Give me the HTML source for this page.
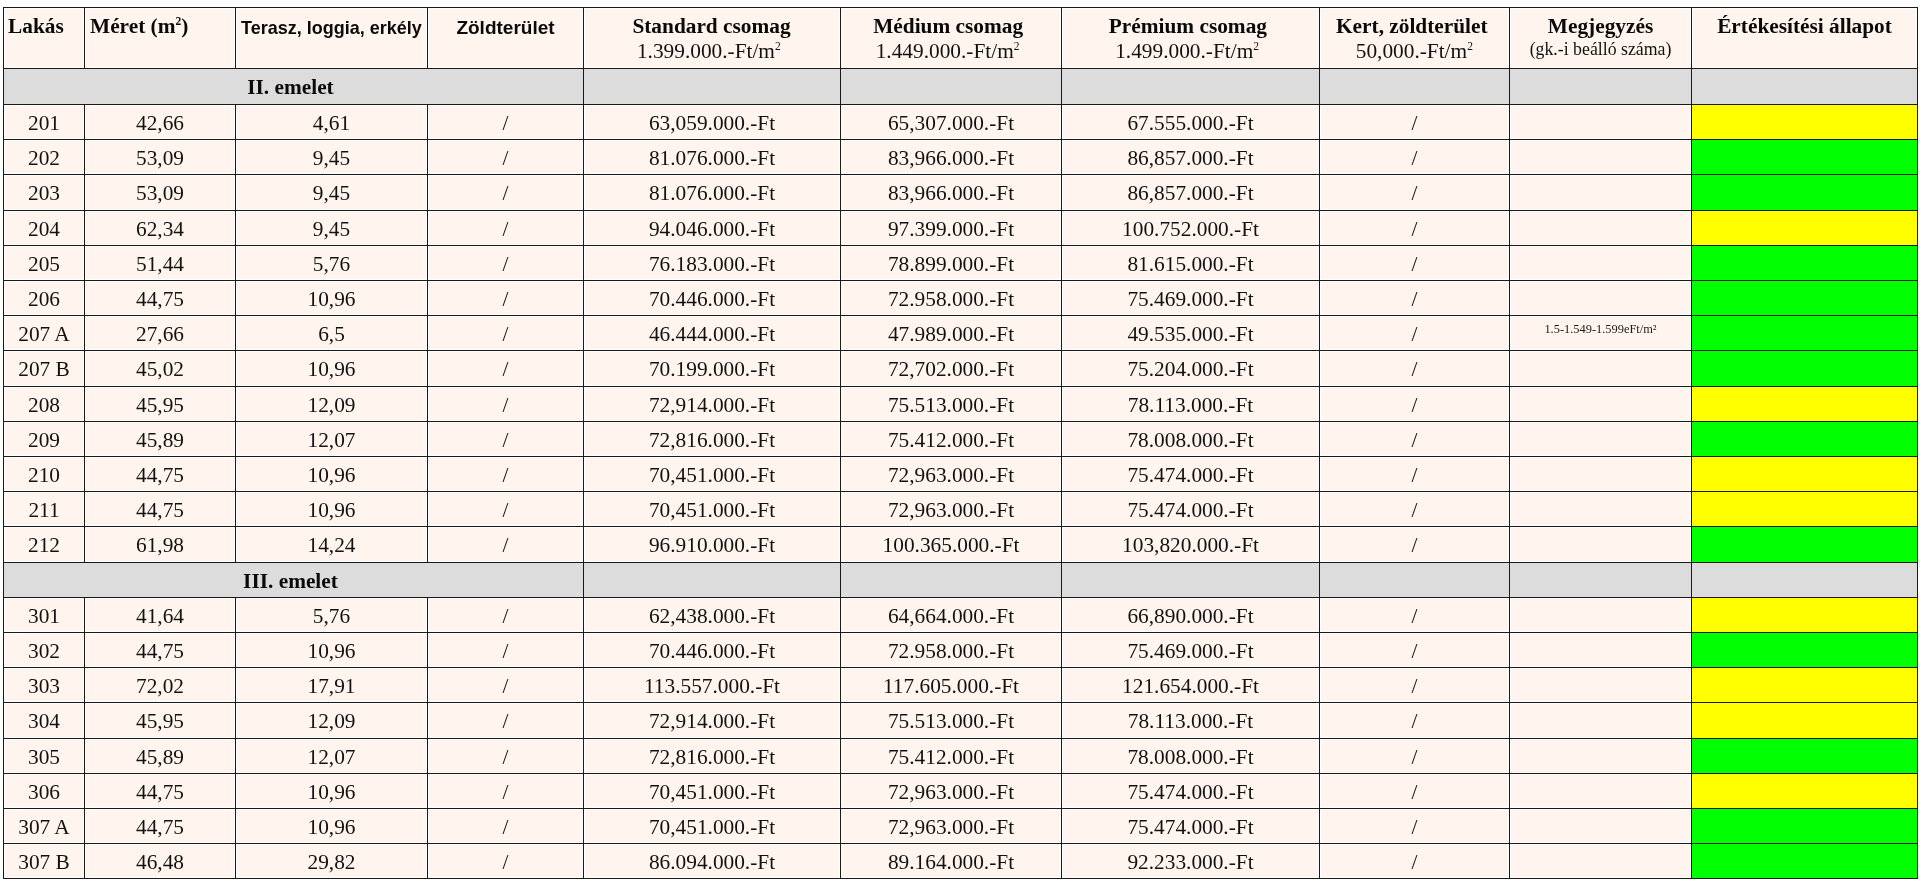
<!DOCTYPE html><html lang="hu"><head><meta charset="utf-8"><title>Lakások – árlista</title><style>
*{margin:0;padding:0;box-sizing:border-box}
html,body{width:1920px;height:880px;background:#fff;overflow:hidden}
body{position:relative;font-family:"Liberation Serif",serif;font-size:21.33px;color:#111}
table{will-change:transform;position:absolute;left:3px;top:7px;border-collapse:collapse;table-layout:fixed;width:1915px}
td,th{border:1px solid #1c1a19;background:#fff5ee;padding:2px 0 0 0;text-align:center;vertical-align:middle;line-height:24.5px;white-space:nowrap;overflow:hidden;box-shadow:inset 0 0 0 1px #fff}
th{font-weight:bold;vertical-align:top;padding-top:6px;color:#0a0a0a}
th div{position:relative;line-height:24.6px}
th.l{text-align:left;padding-left:5px}
th.sans{font-family:"Liberation Sans",sans-serif;letter-spacing:0}
.n{font-weight:normal;color:#111}
.gk{font-size:17.8px;line-height:20px;top:0}
tr.f td{background:#dcdcdc;font-weight:bold;box-shadow:none;color:#0a0a0a}
tr.f td.fl{padding-right:6px}
td.y{background:#ffff00;box-shadow:none}
td.g{background:#00ff00;box-shadow:none}
td.note{font-size:12.4px;line-height:14px;vertical-align:top;padding-top:6px;color:#1a1a1a}
sup{font-size:11.5px;line-height:0;vertical-align:8.5px}
</style></head><body>
<table><colgroup><col style="width:81px"><col style="width:151px"><col style="width:192px"><col style="width:156px"><col style="width:257px"><col style="width:221px"><col style="width:258px"><col style="width:190px"><col style="width:182px"><col style="width:226px"></colgroup>
<tr style="height:61px">
<th class="l"><div style="left:-1px">Lakás</div></th>
<th class="l"><div>Méret (m<sup>2</sup>)</div></th>
<th class="l sans"><div style="font-size:19px;top:2px"><span style="display:inline-block;transform:scaleX(0.947);transform-origin:0 0">Terasz, loggia, erkély</span></div></th>
<th class="sans"><div style="font-size:19px;top:2px">Zöldterület</div></th>
<th><div style="left:-0.5px">Standard csomag</div><div class="n" style="left:-3.2px">1.399.000.-Ft/m<sup>2</sup></div></th>
<th><div style="left:-2.9px">Médium csomag</div><div class="n" style="left:-3.4px">1.449.000.-Ft/m<sup>2</sup></div></th>
<th><div style="left:-2.6px">Prémium csomag</div><div class="n" style="left:-3.4px">1.499.000.-Ft/m<sup>2</sup></div></th>
<th><div style="left:-2.7px">Kert, zöldterület</div><div class="n" style="left:-0.2px">50,000.-Ft/m<sup>2</sup></div></th>
<th><div style="left:0.0px">Megjegyzés</div><div class="n gk" style="left:0.0px">(gk.-i beálló száma)</div></th>
<th><div>Értékesítési állapot</div></th>
</tr>
<tr class="f" style="height:36px"><td colspan="4" class="fl">II. emelet</td><td></td><td></td><td></td><td></td><td></td><td></td></tr>
<tr style="height:35px">
<td>201</td><td>42,66</td><td>4,61</td><td>/</td><td>63,059.000.-Ft</td><td>65,307.000.-Ft</td><td>67.555.000.-Ft</td><td>/</td>
<td></td>
<td class="y"></td></tr>
<tr style="height:35px">
<td>202</td><td>53,09</td><td>9,45</td><td>/</td><td>81.076.000.-Ft</td><td>83,966.000.-Ft</td><td>86,857.000.-Ft</td><td>/</td>
<td></td>
<td class="g"></td></tr>
<tr style="height:36px">
<td>203</td><td>53,09</td><td>9,45</td><td>/</td><td>81.076.000.-Ft</td><td>83,966.000.-Ft</td><td>86,857.000.-Ft</td><td>/</td>
<td></td>
<td class="g"></td></tr>
<tr style="height:35px">
<td>204</td><td>62,34</td><td>9,45</td><td>/</td><td>94.046.000.-Ft</td><td>97.399.000.-Ft</td><td>100.752.000.-Ft</td><td>/</td>
<td></td>
<td class="y"></td></tr>
<tr style="height:35px">
<td>205</td><td>51,44</td><td>5,76</td><td>/</td><td>76.183.000.-Ft</td><td>78.899.000.-Ft</td><td>81.615.000.-Ft</td><td>/</td>
<td></td>
<td class="g"></td></tr>
<tr style="height:35px">
<td>206</td><td>44,75</td><td>10,96</td><td>/</td><td>70.446.000.-Ft</td><td>72.958.000.-Ft</td><td>75.469.000.-Ft</td><td>/</td>
<td></td>
<td class="g"></td></tr>
<tr style="height:35px">
<td>207 A</td><td>27,66</td><td>6,5</td><td>/</td><td>46.444.000.-Ft</td><td>47.989.000.-Ft</td><td>49.535.000.-Ft</td><td>/</td>
<td class="note">1.5-1.549-1.599eFt/m²</td>
<td class="g"></td></tr>
<tr style="height:36px">
<td>207 B</td><td>45,02</td><td>10,96</td><td>/</td><td>70.199.000.-Ft</td><td>72,702.000.-Ft</td><td>75.204.000.-Ft</td><td>/</td>
<td></td>
<td class="g"></td></tr>
<tr style="height:35px">
<td>208</td><td>45,95</td><td>12,09</td><td>/</td><td>72,914.000.-Ft</td><td>75.513.000.-Ft</td><td>78.113.000.-Ft</td><td>/</td>
<td></td>
<td class="y"></td></tr>
<tr style="height:35px">
<td>209</td><td>45,89</td><td>12,07</td><td>/</td><td>72,816.000.-Ft</td><td>75.412.000.-Ft</td><td>78.008.000.-Ft</td><td>/</td>
<td></td>
<td class="g"></td></tr>
<tr style="height:35px">
<td>210</td><td>44,75</td><td>10,96</td><td>/</td><td>70,451.000.-Ft</td><td>72,963.000.-Ft</td><td>75.474.000.-Ft</td><td>/</td>
<td></td>
<td class="y"></td></tr>
<tr style="height:35px">
<td>211</td><td>44,75</td><td>10,96</td><td>/</td><td>70,451.000.-Ft</td><td>72,963.000.-Ft</td><td>75.474.000.-Ft</td><td>/</td>
<td></td>
<td class="y"></td></tr>
<tr style="height:36px">
<td>212</td><td>61,98</td><td>14,24</td><td>/</td><td>96.910.000.-Ft</td><td>100.365.000.-Ft</td><td>103,820.000.-Ft</td><td>/</td>
<td></td>
<td class="g"></td></tr>
<tr class="f" style="height:35px"><td colspan="4" class="fl">III. emelet</td><td></td><td></td><td></td><td></td><td></td><td></td></tr>
<tr style="height:35px">
<td>301</td><td>41,64</td><td>5,76</td><td>/</td><td>62,438.000.-Ft</td><td>64,664.000.-Ft</td><td>66,890.000.-Ft</td><td>/</td>
<td></td>
<td class="y"></td></tr>
<tr style="height:35px">
<td>302</td><td>44,75</td><td>10,96</td><td>/</td><td>70.446.000.-Ft</td><td>72.958.000.-Ft</td><td>75.469.000.-Ft</td><td>/</td>
<td></td>
<td class="g"></td></tr>
<tr style="height:35px">
<td>303</td><td>72,02</td><td>17,91</td><td>/</td><td>113.557.000.-Ft</td><td>117.605.000.-Ft</td><td>121.654.000.-Ft</td><td>/</td>
<td></td>
<td class="y"></td></tr>
<tr style="height:36px">
<td>304</td><td>45,95</td><td>12,09</td><td>/</td><td>72,914.000.-Ft</td><td>75.513.000.-Ft</td><td>78.113.000.-Ft</td><td>/</td>
<td></td>
<td class="y"></td></tr>
<tr style="height:35px">
<td>305</td><td>45,89</td><td>12,07</td><td>/</td><td>72,816.000.-Ft</td><td>75.412.000.-Ft</td><td>78.008.000.-Ft</td><td>/</td>
<td></td>
<td class="g"></td></tr>
<tr style="height:35px">
<td>306</td><td>44,75</td><td>10,96</td><td>/</td><td>70,451.000.-Ft</td><td>72,963.000.-Ft</td><td>75.474.000.-Ft</td><td>/</td>
<td></td>
<td class="y"></td></tr>
<tr style="height:35px">
<td>307 A</td><td>44,75</td><td>10,96</td><td>/</td><td>70,451.000.-Ft</td><td>72,963.000.-Ft</td><td>75.474.000.-Ft</td><td>/</td>
<td></td>
<td class="g"></td></tr>
<tr style="height:35px">
<td>307 B</td><td>46,48</td><td>29,82</td><td>/</td><td>86.094.000.-Ft</td><td>89.164.000.-Ft</td><td>92.233.000.-Ft</td><td>/</td>
<td></td>
<td class="g"></td></tr>
</table></body></html>
